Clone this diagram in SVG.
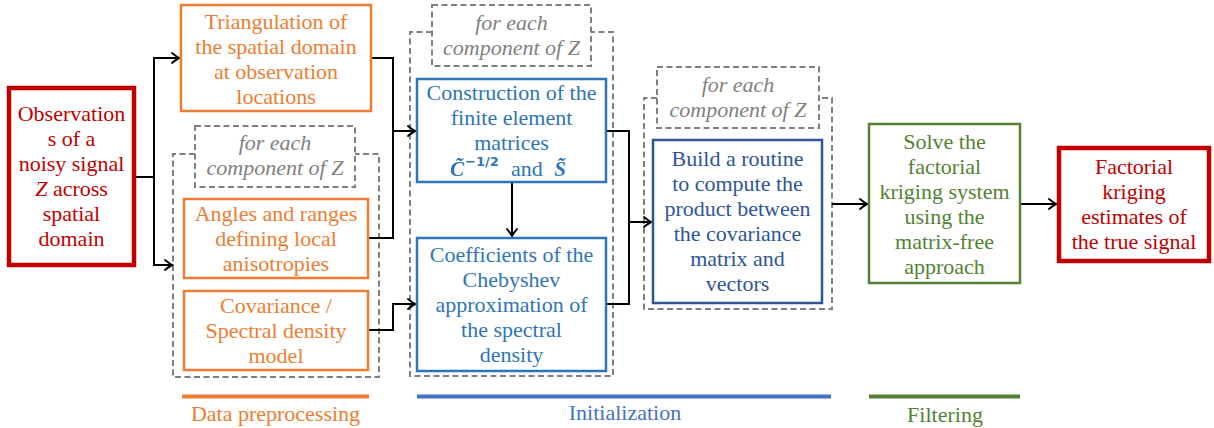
<svg xmlns="http://www.w3.org/2000/svg" width="1214" height="428" viewBox="0 0 1214 428" font-family="'Liberation Serif', Tinos, 'Times New Roman', 'Nimbus Roman', 'DejaVu Serif', 'Noto Serif', serif">
  <style>
    text { font-family: "Liberation Serif", Tinos, "Times New Roman", "Nimbus Roman", "DejaVu Serif", "Noto Serif", serif; font-size: 22px; text-anchor: middle; }
    .box { fill: #ffffff; stroke-width: 2.5; }
    .thick { fill: #ffffff; stroke: #C00000; stroke-width: 4.5; }
    .orange { stroke: #ED7D31; }
    .otxt { fill: #ED7D31; }
    .blue { stroke: #2E75B6; }
    .btxt { fill: #2E75B6; }
    .dblue { stroke: #2F5597; }
    .dbtxt { fill: #2F5597; }
    .green { stroke: #548235; }
    .gtxt { fill: #548235; }
    .rtxt { fill: #C00000; }
    .dash { fill: none; stroke: #7F7F7F; stroke-width: 2; stroke-dasharray: 6 3.5; }
    .ltxt { fill: #7F7F7F; font-style: italic; }
    .conn { fill: none; stroke: #000000; stroke-width: 2; }
    text.math { font-style: italic; font-weight: bold; fill: #2E75B6; font-size: 21px; }
    text.sup { font-family: "DejaVu Sans", sans-serif; font-weight: bold; fill: #2E75B6; font-size: 13px; text-anchor: start; }
  </style>
  <defs>
    <marker id="arrow" markerUnits="userSpaceOnUse" markerWidth="14" markerHeight="14" viewBox="-10 -7 12 14" refX="0" refY="0" orient="auto">
      <path d="M-7,-5 Q-2,-1 0,0 Q-2,1 -7,5" fill="none" stroke="#000000" stroke-width="2" stroke-linecap="round"/>
    </marker>
  </defs>

  <!-- group outlines for repeated steps -->
  <g id="group-preprocessing">
    <path class="dash" d="M195,154 H173 V377 H379 V154 H355"/>
    <rect class="dash" x="195" y="126" width="160" height="61"/>
    <text class="ltxt" x="275" y="150">for each</text>
    <text class="ltxt" x="275" y="175">component of Z</text>
  </g>
  <g id="group-initialization">
    <path class="dash" d="M432,32 H410 V376 H613 V32 H591"/>
    <rect class="dash" x="432" y="5" width="159" height="61"/>
    <text class="ltxt" x="511.5" y="30">for each</text>
    <text class="ltxt" x="511.5" y="55">component of Z</text>
  </g>
  <g id="group-routine">
    <path class="dash" d="M657,98 H644 V309 H832 V98 H819"/>
    <rect class="dash" x="657" y="67" width="162" height="61"/>
    <text class="ltxt" x="738" y="92">for each</text>
    <text class="ltxt" x="738" y="117">component of Z</text>
  </g>

  <!-- connectors -->
  <g id="connectors">
    <path class="conn" d="M134,177 H154 V58 H179" marker-end="url(#arrow)"/>
    <path class="conn" d="M154,177 V265 H172" marker-end="url(#arrow)"/>
    <path class="conn" d="M371,58 H393 V131 H415" marker-end="url(#arrow)"/>
    <path class="conn" d="M368,238 H393 V131"/>
    <path class="conn" d="M368,330 H393 V304 H415" marker-end="url(#arrow)"/>
    <path class="conn" d="M512,182 V236" marker-end="url(#arrow)"/>
    <path class="conn" d="M606,131 H629 V304 H606"/>
    <path class="conn" d="M629,222 H651" marker-end="url(#arrow)"/>
    <path class="conn" d="M832,204 H867" marker-end="url(#arrow)"/>
    <path class="conn" d="M1020,204 H1056" marker-end="url(#arrow)"/>
  </g>

  <!-- nodes -->
  <g id="observations">
    <rect class="thick" x="9" y="88" width="125" height="177"/>
    <text class="rtxt" x="71.5" y="121">Observation</text>
    <text class="rtxt" x="71.5" y="146">s of a</text>
    <text class="rtxt" x="71.5" y="171">noisy signal</text>
    <text class="rtxt" x="71.5" y="196"><tspan font-style="italic">Z</tspan> across</text>
    <text class="rtxt" x="71.5" y="221">spatial</text>
    <text class="rtxt" x="71.5" y="246">domain</text>
  </g>

  <g id="triangulation">
    <rect class="box orange" x="181" y="5" width="190" height="106"/>
    <text class="otxt" x="276" y="29">Triangulation of</text>
    <text class="otxt" x="276" y="54">the spatial domain</text>
    <text class="otxt" x="276" y="79">at observation</text>
    <text class="otxt" x="276" y="104">locations</text>
  </g>

  <g id="anisotropies">
    <rect class="box orange" x="184" y="199" width="184" height="79"/>
    <text class="otxt" x="276" y="221">Angles and ranges</text>
    <text class="otxt" x="276" y="246">defining local</text>
    <text class="otxt" x="276" y="271">anisotropies</text>
  </g>

  <g id="covariance">
    <rect class="box orange" x="184" y="291" width="184" height="79"/>
    <text class="otxt" x="276" y="313">Covariance /</text>
    <text class="otxt" x="276" y="338">Spectral density</text>
    <text class="otxt" x="276" y="363">model</text>
  </g>

  <g id="finite-element">
    <rect class="box blue" x="417" y="79" width="189" height="103"/>
    <text class="btxt" x="511.5" y="100">Construction of the</text>
    <text class="btxt" x="511.5" y="125">finite element</text>
    <text class="btxt" x="511.5" y="150">matrices</text>
    <text class="math" x="457" y="176">C&#x303;</text>
    <text class="sup" x="465" y="166">&#x2212;1/2</text>
    <text class="btxt" x="527" y="176">and</text>
    <text class="math" x="560" y="176">S&#x303;</text>
  </g>

  <g id="chebyshev">
    <rect class="box blue" x="417" y="238" width="189" height="133"/>
    <text class="btxt" x="511.5" y="262">Coefficients of the</text>
    <text class="btxt" x="511.5" y="287">Chebyshev</text>
    <text class="btxt" x="511.5" y="312">approximation of</text>
    <text class="btxt" x="511.5" y="337">the spectral</text>
    <text class="btxt" x="511.5" y="362">density</text>
  </g>

  <g id="routine">
    <rect class="box dblue" x="653" y="140" width="169" height="163"/>
    <text class="dbtxt" x="737.5" y="166">Build a routine</text>
    <text class="dbtxt" x="737.5" y="191">to compute the</text>
    <text class="dbtxt" x="737.5" y="216">product between</text>
    <text class="dbtxt" x="737.5" y="241">the covariance</text>
    <text class="dbtxt" x="737.5" y="266">matrix and</text>
    <text class="dbtxt" x="737.5" y="291">vectors</text>
  </g>

  <g id="solve">
    <rect class="box green" x="869" y="124" width="151" height="159"/>
    <text class="gtxt" x="944.5" y="149">Solve the</text>
    <text class="gtxt" x="944.5" y="174">factorial</text>
    <text class="gtxt" x="944.5" y="199">kriging system</text>
    <text class="gtxt" x="944.5" y="224">using the</text>
    <text class="gtxt" x="944.5" y="249">matrix-free</text>
    <text class="gtxt" x="944.5" y="274">approach</text>
  </g>

  <g id="estimates">
    <rect class="thick" x="1059" y="148" width="150" height="113"/>
    <text class="rtxt" x="1134" y="174">Factorial</text>
    <text class="rtxt" x="1134" y="199">kriging</text>
    <text class="rtxt" x="1134" y="224">estimates of</text>
    <text class="rtxt" x="1134" y="249">the true signal</text>
  </g>

  <!-- stage bars -->
  <g id="stage-preprocessing">
    <rect x="182" y="394.5" width="187" height="4" fill="#ED7D31"/>
    <text class="otxt" x="275.5" y="421">Data preprocessing</text>
  </g>
  <g id="stage-initialization">
    <rect x="417" y="394.5" width="414" height="4" fill="#4472C4"/>
    <text x="625" y="420" fill="#4472C4">Initialization</text>
  </g>
  <g id="stage-filtering">
    <rect x="869" y="394.5" width="151" height="4" fill="#548235"/>
    <text class="gtxt" x="945" y="422">Filtering</text>
  </g>
</svg>
